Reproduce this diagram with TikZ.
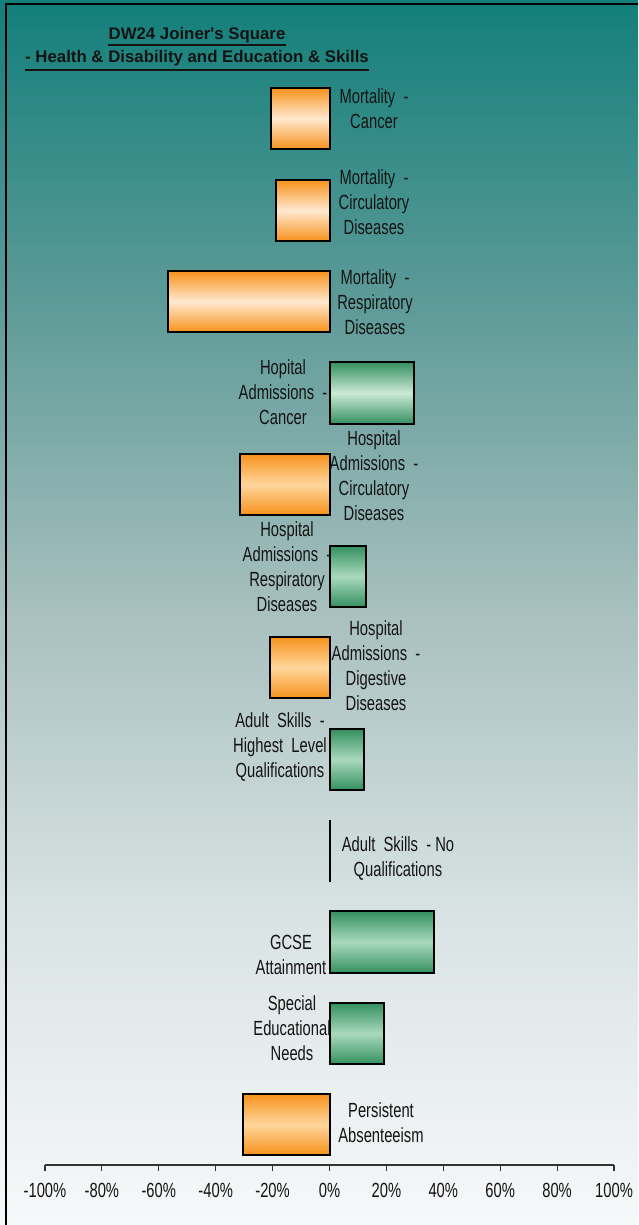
\documentclass[tikz,border=0pt]{standalone}
\usepackage{fontspec}
\setmainfont{Liberation Sans}[FakeStretch=0.72]
\newfontfamily\titlefont{Liberation Sans}
\usetikzlibrary{calc}
\definecolor{bg0}{HTML}{F7F8F9}
\definecolor{bg1}{HTML}{D9E3E3}
\definecolor{bg2}{HTML}{A8C0BF}
\definecolor{bg3}{HTML}{5E9B98}
\definecolor{bg4}{HTML}{137F7A}
\definecolor{oedge}{HTML}{F7921C}
\definecolor{olight}{HTML}{FFE9D0}
\definecolor{omid}{HTML}{FFD69C}
\definecolor{gedge}{HTML}{34905F}
\definecolor{glight}{HTML}{CBE9D7}
\definecolor{gmid}{HTML}{A9D9BD}
\definecolor{txt}{HTML}{141414}
\pgfdeclareverticalshading{bgshade}{100bp}{color(0bp)=(bg0); color(25bp)=(bg0); color(37.5bp)=(bg1); color(50bp)=(bg2); color(62.5bp)=(bg3); color(75bp)=(bg4); color(100bp)=(bg4)}
\tikzset{
  barbase/.style={draw=black, line width=2pt},
  obarlight/.style={barbase, top color=oedge, bottom color=oedge, middle color=olight},
  obar/.style={barbase, top color=oedge, bottom color=oedge, middle color=omid},
  gbarlight/.style={barbase, top color=gedge, bottom color=gedge, middle color=glight},
  gbar/.style={barbase, top color=gedge, bottom color=gedge, middle color=gmid},
  lbl/.style={align=center, inner sep=0pt, text=txt, font=\fontsize{20.5}{25}\selectfont},
  ttl/.style={inner sep=0pt, text=txt, font=\titlefont\fontsize{16.8}{21}\selectfont\bfseries},
  ticklbl/.style={inner sep=0pt, text=txt, font=\fontsize{20.5}{22}\selectfont}
}
\begin{document}
\begin{tikzpicture}[x=1pt,y=-1pt]
\useasboundingbox (0,0) rectangle (638,1225);
% background
\shade[shading=bgshade] (0,0) rectangle (638,1225);
\draw[black, line width=1.5pt] (6,1225) -- (6,4) -- (638,4);
% title
\node[ttl, anchor=base] (t1) at (197,40) {DW24 Joiner{\char"0027}s Square};
\draw[txt, line width=1.6pt] (t1.base west |- 0,45) -- (t1.base east |- 0,45);
\node[ttl, anchor=base] (t2) at (197,63) {- Health \& Disability and Education \& Skills};
\draw[txt, line width=1.6pt] (t2.base west |- 0,70) -- (t2.base east |- 0,70);
% bars
\draw[obarlight] (271,88) rectangle (330,149);
\draw[obarlight] (276,180) rectangle (330,241);
\draw[obarlight] (168,271) rectangle (330,332);
\draw[gbarlight] (330,362) rectangle (414,424);
\draw[obar] (240,454) rectangle (330,515);
\draw[gbar] (330,546) rectangle (366,607);
\draw[obar] (270,637) rectangle (330,698);
\draw[gbar] (330,729) rectangle (364,790);
\draw[black, line width=2.2pt] (330,820) -- (330,882);
\draw[gbar] (330,911) rectangle (434,973);
\draw[gbar] (330,1003) rectangle (384,1064);
\draw[obar] (243,1094) rectangle (330,1155);
% labels
\node[lbl] (l1) at (374,109) {Mortality\ \ -\\Cancer};
\node[lbl] (l2) at (374,202) {Mortality\ \ -\\Circulatory\\Diseases};
\node[lbl] (l3) at (375,302) {Mortality\ \ -\\Respiratory\\Diseases};
\node[lbl] (l4) at (283,392) {Hopital\\Admissions\ \ -\\Cancer};
\node[lbl] (l5) at (374,476) {Hospital\\Admissions\ \ -\\Circulatory\\Diseases};
\node[lbl] (l6) at (287,567) {Hospital\\Admissions\ \ -\\Respiratory\\Diseases};
\node[lbl] (l7) at (376,666) {Hospital\\Admissions\ \ -\\Digestive\\Diseases};
\node[lbl] (l8) at (280,747) {Adult\ \ Skills\ \ -\\Highest\ \ Level\\Qualifications};
\node[lbl] (l9) at (398,858) {Adult\ \ Skills\ \ - No\\Qualifications};
\node[lbl] (l10) at (291,955) {GCSE\\Attainment};
\node[lbl] (l11) at (292,1028) {Special\\Educational\\Needs};
\node[lbl] (l12) at (381,1123) {Persistent\\Absenteeism};
% axis
\coordinate (axl) at (45,1165);
\coordinate (axr) at (614,1165);
\draw[black!80, line width=1.3pt] (axl) -- (axr);
\foreach \i/\t in {0/-100\%,1/-80\%,2/-60\%,3/-40\%,4/-20\%,5/0\%,6/20\%,7/40\%,8/60\%,9/80\%,10/100\%}{
  \draw[black!80, line width=1.1pt] ($(axl)!\i/10!(axr)$) -- ++(0,6);
  \node[ticklbl] (tk\i) at ($(axl)!\i/10!(axr) + (0,25)$) {\t};
}
\end{tikzpicture}
\end{document}
